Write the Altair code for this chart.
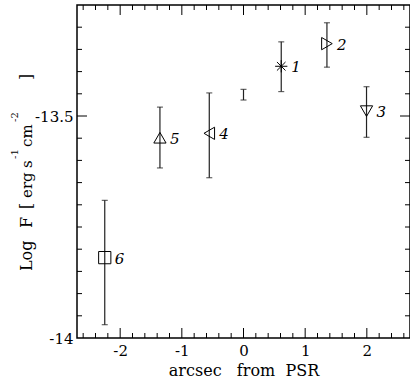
import altair as alt
import pandas as pd

# ---- data ----
labels = ["1", "2", "3", "4", "5", "6", ""]
x_arcsec = [0.612, 1.353, 1.995, -0.555, -1.355, -2.25, 0.0]
logf = [-13.388, -13.337, -13.489, -13.539, -13.549, -13.819, -13.452]
logf_lo = [-13.445, -13.390, -13.548, -13.639, -13.617, -13.970, -13.464]
logf_hi = [-13.333, -13.290, -13.434, -13.448, -13.480, -13.690, -13.440]

x_tick_labels = [-2, -1, 0, 1, 2]
x_major = [-2, -1, 0, 1, 2]
x_minor = [-2.6, -2.4, -2.2, -1.8, -1.6, -1.4, -1.2, -0.8, -0.6, -0.4, -0.2,
           0.2, 0.4, 0.6, 0.8, 1.2, 1.4, 1.6, 1.8, 2.2, 2.4, 2.6]
y_tick_labels = [-14, -13.5]
y_major = [-13.5]
y_minor = [-13.95, -13.9, -13.85, -13.8, -13.75, -13.7, -13.65, -13.6, -13.55,
           -13.45, -13.4, -13.35, -13.3]

shape_domain = ["1", "2", "3", "4", "5", "6"]
shape_range = ["M-1,0L1,0M0,-1L0,1M-0.7,-0.7L0.7,0.7M-0.7,0.7L0.7,-0.7",
               "triangle-right", "triangle-down", "triangle-left", "triangle-up", "square"]

W, H = 333, 333
FONT = "DejaVu Serif"
XDOM = [-2.7, 2.7]
YDOM = [-14, -13.25]

df = pd.DataFrame({"label": labels, "x": x_arcsec, "y": logf,
                   "lo": logf_lo, "hi": logf_hi})

xs = alt.Scale(domain=XDOM, nice=False, zero=False)
ys = alt.Scale(domain=YDOM, nice=False, zero=False)

base = alt.Chart(df)

bars = base.mark_rule(color="#222", strokeWidth=1.2).encode(
    x=alt.X("x:Q", scale=xs, axis=alt.Axis(
        values=x_tick_labels, labelExpr="toString(datum.value)",
        ticks=False, tickSize=0, domain=False, grid=False,
        labelPadding=5,
        title="arcsec\u00a0\u00a0\u00a0from\u00a0\u00a0PSR", titlePadding=4)),
    y=alt.Y("lo:Q", scale=ys, axis=alt.Axis(
        values=y_tick_labels, labelExpr="toString(datum.value)",
        ticks=False, tickSize=0, domain=False, grid=False,
        labelPadding=4, title=None)),
    y2="hi:Q",
)

caps_lo = base.mark_tick(orient="horizontal", size=6, thickness=1.2, color="#222").encode(
    x=alt.X("x:Q", scale=xs), y=alt.Y("lo:Q", scale=ys))
caps_hi = base.mark_tick(orient="horizontal", size=6, thickness=1.2, color="#222").encode(
    x=alt.X("x:Q", scale=xs), y=alt.Y("hi:Q", scale=ys))

pts = base.transform_filter("datum.label != ''").mark_point(
    filled=False, color="black", strokeWidth=1, size=150, opacity=1).encode(
    x=alt.X("x:Q", scale=xs),
    y=alt.Y("y:Q", scale=ys),
    shape=alt.Shape("label:N", scale=alt.Scale(domain=shape_domain, range=shape_range),
                    legend=None),
)

txt = base.transform_filter("datum.label != ''").mark_text(
    align="left", baseline="middle", dx=10, dy=1, font=FONT, fontSize=15,
    fontStyle="italic", color="black").encode(
    x=alt.X("x:Q", scale=xs),
    y=alt.Y("y:Q", scale=ys),
    text="label:N",
)


def xticks(vals, length):
    d = pd.DataFrame({"x": vals})
    bot = alt.Chart(d).mark_rule(color="black", strokeWidth=1).encode(
        x=alt.X("x:Q", scale=xs), y=alt.value(H), y2=alt.value(H - length))
    top = alt.Chart(d).mark_rule(color="black", strokeWidth=1).encode(
        x=alt.X("x:Q", scale=xs), y=alt.value(0), y2=alt.value(length))
    return [bot, top]


def yticks(vals, length):
    d = pd.DataFrame({"lo": vals})
    left = alt.Chart(d).mark_rule(color="black", strokeWidth=1).encode(
        y=alt.Y("lo:Q", scale=ys), x=alt.value(0), x2=alt.value(length))
    right = alt.Chart(d).mark_rule(color="black", strokeWidth=1).encode(
        y=alt.Y("lo:Q", scale=ys), x=alt.value(W), x2=alt.value(W - length))
    return [left, right]


tick_layers = xticks(x_major, 10) + xticks(x_minor, 5) + yticks(y_major, 10) + yticks(y_minor, 5)

one = pd.DataFrame({"a": [0]})


def piece(text, px, py, size):
    return alt.Chart(one).mark_text(
        text=text, angle=270, align="left", baseline="alphabetic",
        font=FONT, fontSize=size, color="black").encode(
        x=alt.value(px), y=alt.value(py))


ytitle = [
    piece("Log", -45, 266, 16),
    piece("F", -45, 223, 16),
    piece("[", -45, 204, 16),
    piece("erg", -45, 193, 15),
    piece("s", -45, 163, 15),
    piece("-1", -59, 154, 10),
    piece("cm", -45, 142, 15),
    piece("-2", -59, 117, 10),
    piece("]", -45, 75, 16),
]

chart = alt.layer(bars, caps_lo, caps_hi, pts, txt, *tick_layers, *ytitle).properties(
    width=W, height=H,
    background="white",
    autosize=alt.AutoSizeParams(type="none"),
    padding={"left": 77, "top": 5, "right": 0, "bottom": 43},
).configure_view(stroke="black", strokeWidth=1.5).configure_axis(
    labelFont=FONT, titleFont=FONT, labelFontSize=15, titleFontSize=16,
    titleFontWeight="normal", labelColor="black", titleColor="black",
).configure_text(font=FONT)

chart.save("out.html", embed_options={"renderer": "svg", "actions": False})
